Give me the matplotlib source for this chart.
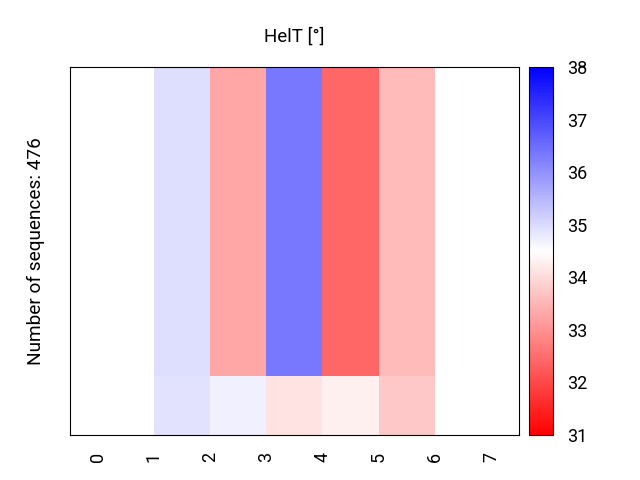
import numpy as np
import matplotlib
matplotlib.use("Agg")
import matplotlib.pyplot as plt

plt.rcParams['font.family'] = ['Roboto', 'DejaVu Sans']

# data
positions = [0, 1, 2, 3, 4, 5, 6, 7]
col_edges = [0, 1, 2, 3, 4, 5, 6, 7]
row_edges = [0, 0.16, 1.0]
# HelT values per column (NaN = no value), bottom row then top row
bottom_row = [np.nan, 34.9, 34.7, 34.1, 34.3, 33.75, np.nan]
top_row = [np.nan, 34.95, 33.28, 36.35, 32.4, 33.55, np.nan]
vmin, vmax = 31, 38
cbar_ticks = [31, 32, 33, 34, 35, 36, 37, 38]

fig = plt.figure(figsize=(6.4, 4.8), dpi=100)
ax = fig.add_axes([0.109, 0.094, 0.702, 0.766])
cax = fig.add_axes([0.827, 0.094, 0.037, 0.766])

values = np.ma.masked_invalid(np.array([bottom_row, top_row]))
mesh = ax.pcolormesh(col_edges, row_edges, values, cmap='bwr_r', vmin=vmin, vmax=vmax)

ax.set_xlim(-0.5, 7.5)
ax.set_ylim(0, 1)
ax.set_xticks(positions)
ax.set_xticklabels([str(p) for p in positions], rotation=90, fontsize=13)
ax.tick_params(axis='x', length=0, pad=12)
ax.set_yticks([])
ax.set_ylabel("Number of sequences: 476", fontsize=13.7, labelpad=18)
ax.set_title("HelT [°]", fontsize=13.5, pad=18)

cb = fig.colorbar(mesh, cax=cax, ticks=cbar_ticks)
cb.ax.tick_params(length=0, labelsize=13, pad=10)

plt.savefig("out.png")
